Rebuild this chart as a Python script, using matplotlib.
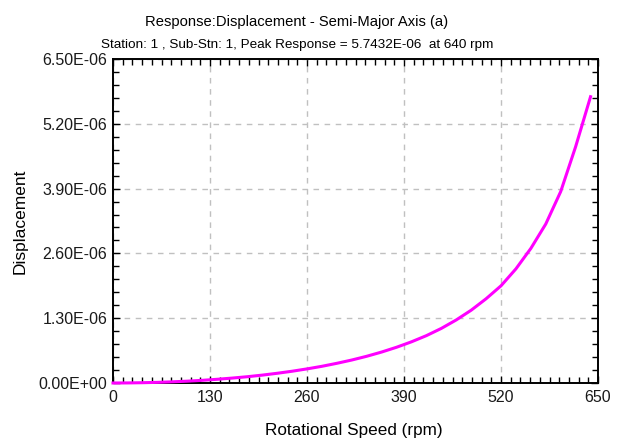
import matplotlib
matplotlib.use("Agg")
import matplotlib.pyplot as plt
from matplotlib.ticker import MultipleLocator, FuncFormatter

plt.rcParams['font.family'] = ['Liberation Sans', 'DejaVu Sans']

rpm = [0, 20, 40, 60, 80, 100, 120, 140, 160, 180, 200, 220, 240, 260, 280, 300,
       320, 340, 360, 380, 400, 420, 440, 460, 480, 500, 520, 540, 560, 580, 600,
       620, 640]
disp_e6 = [0.0, 0.0015, 0.006, 0.013, 0.024, 0.037, 0.054, 0.075, 0.099, 0.126,
           0.158, 0.195, 0.236, 0.283, 0.335, 0.395, 0.461, 0.536, 0.621, 0.717,
           0.826, 0.950, 1.095, 1.265, 1.46, 1.69, 1.95, 2.29, 2.70, 3.19, 3.84,
           4.74, 5.7432]
disp = [v * 1e-6 for v in disp_e6]

title1 = "Response:Displacement - Semi-Major Axis (a)"
title2 = "Station: 1 , Sub-Stn: 1, Peak Response = 5.7432E-06  at 640 rpm"
xlabel = "Rotational Speed (rpm)"
ylabel = "Displacement"

fig = plt.figure(figsize=(6.2, 4.41), dpi=100)
W, H = 620, 441
ax = fig.add_axes([113 / W, 1 - 383 / H, (598 - 113) / W, (383 - 59) / H])

ax.plot(rpm, disp, color='#FF00FF', lw=2.2, zorder=5, clip_on=False)

ax.set_xlim(0, 650)
ax.set_ylim(0, 6.5e-6)
ax.xaxis.set_major_locator(MultipleLocator(130))
ax.xaxis.set_minor_locator(MultipleLocator(13))
ax.yaxis.set_major_locator(MultipleLocator(1.3e-6))
ax.yaxis.set_minor_locator(MultipleLocator(0.26e-6))
ax.yaxis.set_major_formatter(FuncFormatter(lambda v, p: "%.2E" % v))

ax.tick_params(which='both', direction='in', top=True, right=True,
               colors='black', labelsize=11.5)
ax.tick_params(which='major', length=5, width=1)
ax.tick_params(which='minor', length=4, width=1)
ax.tick_params(axis='x', pad=5)
ax.tick_params(axis='y', pad=4)
for s in ax.spines.values():
    s.set_linewidth(1.4)
    s.set_color('black')

ax.grid(True, which='major', linestyle=(0, (4, 4)), color='#c0c0c0', lw=1)
for lbl in ax.get_xticklabels() + ax.get_yticklabels():
    lbl.set_color('#1a1a1a')

fig.text(354 / W, 1 - 430 / H, xlabel, ha='center', va='center', fontsize=12.3)
fig.text(20 / W, 1 - 221 / H, ylabel, ha='center', va='center', fontsize=12.5,
         rotation=90)

fig.text(297 / W, 1 - 22 / H, title1, ha='center', va='center', fontsize=10.6)
fig.text(297 / W, 1 - 45 / H, title2, ha='center', va='center', fontsize=9.7)

fig.savefig("out.png", dpi=100)
